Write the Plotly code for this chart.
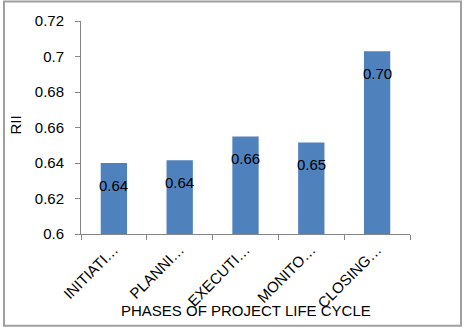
import plotly.graph_objects as go

categories = ["INITIATION", "PLANNING", "EXECUTION", "MONITORING", "CLOSING"]
tick_labels = ["INITIATI…", "PLANNI…", "EXECUTI…", "MONITO…", "CLOSING…"]
rii_values = [0.640, 0.6415, 0.655, 0.6515, 0.703]
value_labels = ["0.64", "0.64", "0.66", "0.65", "0.70"]
y_ticks = [0.6, 0.62, 0.64, 0.66, 0.68, 0.7, 0.72]

FONT = "Liberation Sans, Arial, sans-serif"

fig = go.Figure(go.Bar(
    x=categories, y=rii_values, width=0.4,
    marker=dict(color="#4f81bd", line=dict(width=0)),
    hoverinfo="x+y",
))

label_annotations = [
    dict(x=c, y=v, text=t, xref="x", yref="y", showarrow=False,
         yshift=-22, font=dict(size=15, color="black"),
         xanchor="center", yanchor="middle")
    for c, v, t in zip(categories, rii_values, value_labels)
]

fig.update_layout(
    width=466, height=332,
    margin=dict(l=81, r=56, t=16, b=98),
    plot_bgcolor="white", paper_bgcolor="white",
    showlegend=False,
    font=dict(family=FONT, color="black"),
    xaxis=dict(
        tickmode="array", tickvals=categories, ticktext=tick_labels,
        tickangle=-45, tickfont=dict(size=15),
        showline=True, linecolor="#868686", linewidth=1,
        ticks="outside", ticklen=5, tickcolor="#868686",
        tickson="boundaries",
        showgrid=False,
    ),
    yaxis=dict(
        range=[0.6, 0.72], tickvals=y_ticks,
        ticktext=[str(v) for v in y_ticks],
        tickfont=dict(size=15),
        showline=True, linecolor="#868686", linewidth=1,
        ticks="outside", ticklen=5, tickcolor="#868686",
        ticklabelstandoff=8,
        showgrid=False, zeroline=False,
    ),
    annotations=label_annotations + [
        dict(text="RII", xref="paper", yref="paper", x=(16 - 81) / 329, y=(234 - 123) / 218,
             showarrow=False, textangle=-90, font=dict(size=15), xanchor="center", yanchor="middle"),
        dict(text="PHASES OF PROJECT LIFE CYCLE", xref="paper", yref="paper",
             x=(246 - 81) / 329, y=(234 - 312) / 218,
             showarrow=False, font=dict(size=15), xanchor="center", yanchor="middle"),
    ],
    shapes=[
        dict(type="rect", xref="paper", yref="paper",
             x0=(4 - 81) / 329, x1=(461 - 81) / 329,
             y0=(234 - 328) / 218, y1=(234 + 4) / 218,
             line=dict(color="#a0a0a0", width=2), fillcolor="rgba(0,0,0,0)"),
    ],
)

fig.write_html("out.html")
